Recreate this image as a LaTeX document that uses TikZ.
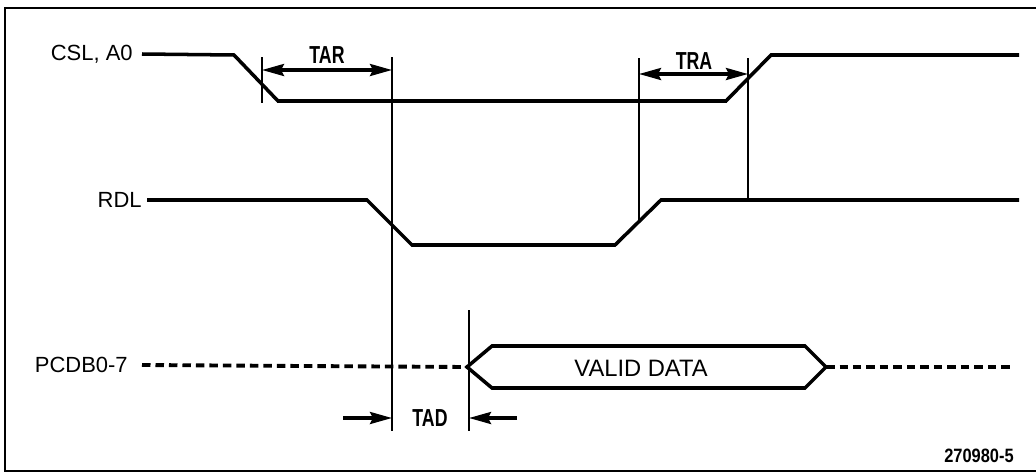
\documentclass[tikz,border=0pt]{standalone}
\usepackage{fontspec}
\setmainfont{Liberation Sans}
\usepackage{graphicx}
\usetikzlibrary{arrows.meta,calc,positioning}
\newcommand{\narrowtxt}[1]{\scalebox{0.72}[1]{#1}}

\begin{document}
\begin{tikzpicture}[
    x=0.02cm, y=-0.02cm,
    signal/.style={line width=2pt, line join=miter},
    busline/.style={line width=2.2pt, dash pattern=on 0.17cm off 0.1cm},
    marker/.style={line width=1.5pt},
    tip/.style={-{Stealth[length=0.44cm,width=0.24cm,inset=0.06cm]}},
    dimarrow/.style={line width=1.8pt, tip},
    dimboth/.style={line width=1.8pt,
      {Stealth[length=0.44cm,width=0.24cm,inset=0.06cm]}-{Stealth[length=0.44cm,width=0.24cm,inset=0.06cm]}},
    siglabel/.style={anchor=east, inner sep=0pt, font=\fontsize{12.5}{14}\selectfont},
    timelabel/.style={inner sep=0pt, font=\fontsize{14}{16}\selectfont\bfseries},
  ]
  \useasboundingbox (0,0) rectangle (1036,474);
  %% frame (right edge cut off in the original)
  \draw[line width=1.5pt] (1036,8) -- (5,8) -- (5,471) -- (1036,471);

  %% signal names
  \node[siglabel] (csl)  at (133,54)  {CSL, A0};
  \node[siglabel] (rdl)  at (142,200) {RDL};
  \node[siglabel] (pcdb) at (128,365) {PCDB0-7};

  %% CSL, A0 waveform
  \coordinate (csl fall) at (234,55);
  \coordinate (csl low)  at (278,101);
  \coordinate (csl up)   at (726,101);
  \coordinate (csl high) at (771,55);
  \coordinate (csl end)  at (1019,55);
  \draw[signal] ($(csl.east)+(9,0)$) -- (csl fall) -- (csl low) -- (csl up)
      -- (csl high) -- (csl end);

  %% RDL waveform
  \coordinate (rdl fall) at (367,200);
  \coordinate (rdl low)  at (412,245);
  \coordinate (rdl up)   at (615,245);
  \coordinate (rdl high) at (661,200);
  \coordinate (rdl end)  at (1019,200);
  \draw[signal] ($(rdl.east)+(5,0)$) -- (rdl fall) -- (rdl low) -- (rdl up)
      -- (rdl high) -- (rdl end);

  %% data bus
  \coordinate (bus open)  at (467,367);
  \coordinate (bus close) at (826,367);
  \coordinate (bus end)   at (1014,367);
  \draw[busline] ($(pcdb.east)+(14,0)$) -- (bus open);
  \draw[signal] (bus open) -- (492,346) -- (805,346) -- (bus close)
      -- (805,388) -- (492,388) -- cycle;
  \draw[busline] (bus close) -- (bus end);
  \node[font=\fontsize{13.5}{15}\selectfont, inner sep=0pt] (valid) at (641,368) {VALID DATA};

  %% timing markers
  \coordinate (m1 top) at (262,57);  \coordinate (m1 bot) at (262,103);
  \coordinate (m2 top) at (392,57);  \coordinate (m2 bot) at (392,431);
  \coordinate (m3 top) at (639,58);  \coordinate (m3 bot) at (639,222);
  \coordinate (m4 top) at (748,58);  \coordinate (m4 bot) at (748,200);
  \coordinate (m5 top) at (469,310); \coordinate (m5 bot) at (469,431);
  \foreach \m in {m1,m2,m3,m4,m5}
    \draw[marker] (\m\space top) -- (\m\space bot);

  %% TAR
  \draw[dimboth] ($(m1 top)+(0,13)$) -- ($(m2 top)+(0,13)$);
  \node[timelabel] (tar) at (327,55) {\narrowtxt{TAR}};
  %% TRA
  \draw[dimboth] ($(m3 top)+(0,16)$) -- ($(m4 top)+(0,16)$);
  \node[timelabel] (tra) at (694,61) {\narrowtxt{TRA}};
  %% TAD
  \coordinate (tad l) at (343,418);
  \coordinate (tad r) at (517,418);
  \draw[dimarrow] (tad l) -- (tad l -| m2 top);
  \draw[dimarrow] (tad r) -- (tad r -| m5 top);
  \node[timelabel] (tad) at (430,418) {\narrowtxt{TAD}};

  \node[inner sep=0pt, font=\fontsize{11}{13}\selectfont\bfseries] (fig) at (979,456)
      {\scalebox{0.85}[1]{270980-5}};
\end{tikzpicture}
\end{document}
